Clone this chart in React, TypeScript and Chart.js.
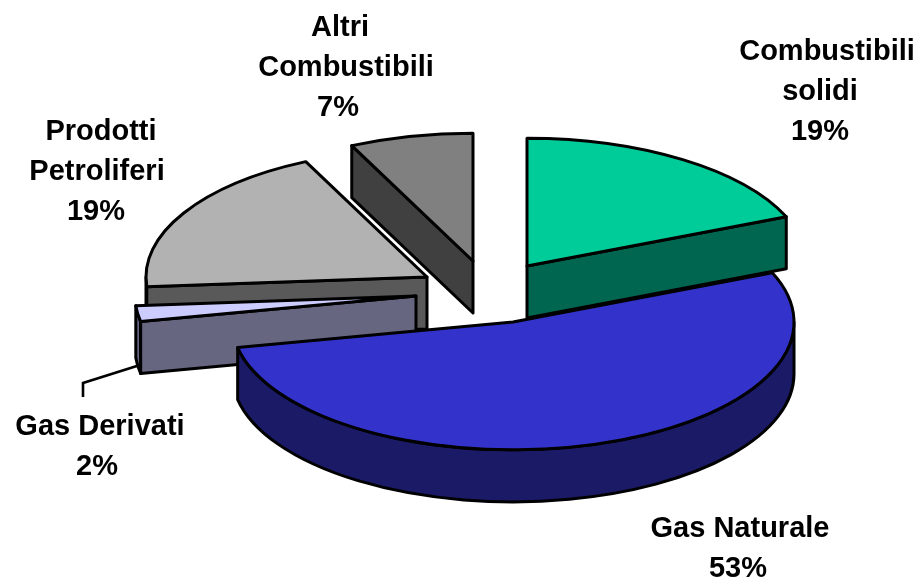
import React, { useEffect, useRef } from "react";
import { Chart, registerables } from "chart.js";

Chart.register(...registerables);

const categories = ["Combustibili solidi", "Gas Naturale", "Gas Derivati", "Prodotti Petroliferi", "Altri Combustibili"];
const values = [18.7, 53.1, 2, 19.1, 7.1];
const percentLabels = ["19%", "53%", "2%", "19%", "7%"];
const labelLines = [["Combustibili", "solidi"], ["Gas Naturale"], ["Gas Derivati"], ["Prodotti", "Petroliferi"], ["Altri", "Combustibili"]];
const topColors = ["#00CC99", "#3333CC", "#CCCCFF", "#B2B2B2", "#808080"];
const sideColors = ["#006650", "#1A1A66", "#666680", "#595959", "#404040"];

// Layout only: where each exploded slice's apex sits, painter's order, label anchors
const apexX = [527, 513, 416, 427, 473];
const apexY = [266, 322, 296, 277, 261];
const labelXByLine = [
  [827, 820, 820],
  [740, 738],
  [100, 97],
  [101, 97, 96],
  [340, 346, 338],
];
const labelY = [52, 529, 427, 132, 28];
const paintOrder = [4, 3, 2, 1, 0];
const RADIUS = 281;
const TILT = 0.455;
const DEPTH = 52;
const LINE_H = 40;
const FRONT_A = 0;
const FRONT_B = Math.PI;

const pie3d = {
  id: "pie3d",
  beforeDatasetDraw(chart: any) {
    const ctx: CanvasRenderingContext2D = chart.ctx;
    const arcs = chart.getDatasetMeta(0).data;
    ctx.save();
    ctx.lineWidth = 3;
    ctx.lineJoin = "round";
    ctx.strokeStyle = "#000";
    for (const i of paintOrder) {
      const arc = arcs[i];
      const a0 = arc.startAngle;
      const a1 = arc.endAngle;
      const R = arc.outerRadius;
      const rx = R;
      const ry = R * TILT;
      const cx = apexX[i];
      const cy = apexY[i];
      const px = (a: number) => cx + rx * Math.cos(a);
      const py = (a: number) => cy + ry * Math.sin(a);
      ctx.fillStyle = sideColors[i];

      // outer rim wall (only the part facing the viewer)
      const w0 = Math.max(a0, FRONT_A);
      const w1 = Math.min(a1, FRONT_B);
      if (w1 > w0) {
        ctx.beginPath();
        ctx.ellipse(cx, cy, rx, ry, 0, w0, w1);
        ctx.lineTo(px(w1), py(w1) + DEPTH);
        ctx.ellipse(cx, cy + DEPTH, rx, ry, 0, w1, w0, true);
        ctx.closePath();
        ctx.fill();
        ctx.stroke();
      }

      // straight cut walls that face the viewer
      const cut = (a: number) => {
        ctx.beginPath();
        ctx.moveTo(cx, cy);
        ctx.lineTo(px(a), py(a));
        ctx.lineTo(px(a), py(a) + DEPTH);
        ctx.lineTo(cx, cy + DEPTH);
        ctx.closePath();
        ctx.fill();
        ctx.stroke();
      };
      if (Math.cos(a0) < -0.001) cut(a0);
      if (Math.cos(a1) > 0.001) cut(a1);

      // top face: the library's arc element, squashed by the tilt
      ctx.save();
      ctx.translate(cx, cy);
      ctx.scale(1, TILT);
      ctx.translate(-arc.x, -arc.y);
      arc.draw(ctx);
      ctx.restore();

      ctx.beginPath();
      ctx.moveTo(cx, cy);
      ctx.ellipse(cx, cy, rx, ry, 0, a0, a1);
      ctx.closePath();
      ctx.stroke();
    }

    // leader line for the small slice
    ctx.lineWidth = 2.6;
    ctx.lineJoin = "miter";
    ctx.beginPath();
    ctx.moveTo(140, 365);
    ctx.lineTo(83, 383);
    ctx.lineTo(83, 397);
    ctx.stroke();

    // labels
    ctx.fillStyle = "#000";
    ctx.font = 'bold 29px "Liberation Sans", Arial, sans-serif';
    ctx.textAlign = "center";
    ctx.textBaseline = "middle";
    categories.forEach((_, i) => {
      const lines = [...labelLines[i], percentLabels[i]];
      lines.forEach((t, j) => ctx.fillText(t, labelXByLine[i][j], labelY[i] + j * LINE_H));
    });
    ctx.restore();
    return false;
  },
};

export default function App() {
  const ref = useRef<HTMLCanvasElement | null>(null);
  useEffect(() => {
    const chart = new Chart(ref.current as HTMLCanvasElement, {
      type: "pie",
      data: {
        labels: categories,
        datasets: [
          {
            data: values,
            backgroundColor: topColors,
            borderWidth: 0,
            radius: RADIUS,
          } as any,
        ],
      },
      options: {
        responsive: false,
        animation: false,
        layout: { padding: 0 },
        plugins: { legend: { display: false }, tooltip: { enabled: false }, title: { display: false } },
      },
      plugins: [pie3d as any],
    });
    return () => chart.destroy();
  }, []);
  return (
    <div style={{ position: "absolute", left: 0, top: 0, width: 919, height: 579, background: "#fff" }}>
      <canvas ref={ref} width={919} height={579} style={{ display: "block" }} />
    </div>
  );
}
